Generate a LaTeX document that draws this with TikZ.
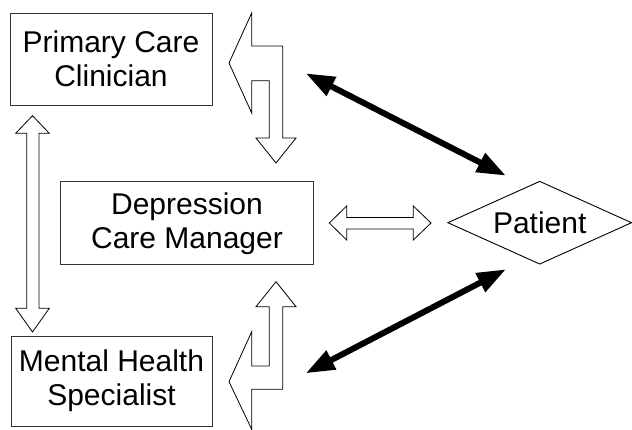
\documentclass[tikz,border=0pt]{standalone}
\usepackage{fontspec}
\setmainfont{Liberation Sans}
\usetikzlibrary{shapes.geometric,arrows.meta}
\tikzset{
  box/.style={draw=black!80, line width=0.9pt, inner sep=0pt, align=center,
    font=\fontsize{30}{34}\selectfont},
  pat/.style={draw=black, line width=0.9pt, shape=diamond, shape aspect=2.2, inner sep=1pt,
    minimum width=184pt, minimum height=83pt, font=\fontsize{30}{34}\selectfont},
  blockarrow/.style={draw=black, line width=0.8pt, fill=white, line join=miter},
  boldarrow/.style={line width=6pt, {Triangle[length=29pt,width=20pt]}-{Triangle[length=29pt,width=20pt]}}
}
\begin{document}
\begin{tikzpicture}[x=1pt,y=-1pt]
\useasboundingbox (0,0) rectangle (632,430);
% nodes
\node[box, minimum width=202pt, minimum height=92pt] (pcc) at (111,59) {Primary Care\\Clinician};
\node[box, minimum width=252.6pt, minimum height=83.3pt] (dcm) at (187,223.3) {Depression\\Care Manager};
\node[box, minimum width=201pt, minimum height=90pt] (mhs) at (111.5,381) {Mental Health\\Specialist};
\node[pat] (pt) at (539.7,222.7) {Patient};
% vertical double block arrow (PCC <-> MHS)
\draw[blockarrow] (32.5,115.7) -- (49.3,133.3) -- (39,133.3) -- (39,308.3) -- (49.3,308.3)
  -- (32.5,332) -- (15.7,308.3) -- (26.7,308.3) -- (26.7,133.3) -- (15.7,133.3) -- cycle;
% horizontal double block arrow (DCM <-> Patient)
\draw[blockarrow] (329.3,223) -- (346.7,206) -- (346.7,217.5) -- (413.3,217.5) -- (413.3,206)
  -- (431,223) -- (413.3,240) -- (413.3,229) -- (346.7,229) -- (346.7,240) -- cycle;
% top bent block arrow
\draw[blockarrow] (229,63) -- (251.7,13) -- (251.7,46) -- (282.7,46) -- (282.7,138) -- (296,138)
  -- (276,163) -- (256,138) -- (269.3,138) -- (269.3,80.7) -- (251.7,80.7) -- (251.7,113) -- cycle;
% bottom bent block arrow
\draw[blockarrow] (276,281.7) -- (296,306.7) -- (282.7,306.7) -- (282.7,389.3) -- (251.7,389.3)
  -- (251.7,429.3) -- (229,381.7) -- (251.7,331.7) -- (251.7,366) -- (269.3,366) -- (269.3,306.7)
  -- (256,306.7) -- cycle;
% bold double arrows
\coordinate (a1) at (305.7,73.3);
\coordinate (a2) at (506,175.7);
\coordinate (b1) at (305.7,373.3);
\coordinate (b2) at (506,269.3);
\draw[boldarrow] (a1) -- (a2);
\draw[boldarrow] (b1) -- (b2);
\end{tikzpicture}
\end{document}
